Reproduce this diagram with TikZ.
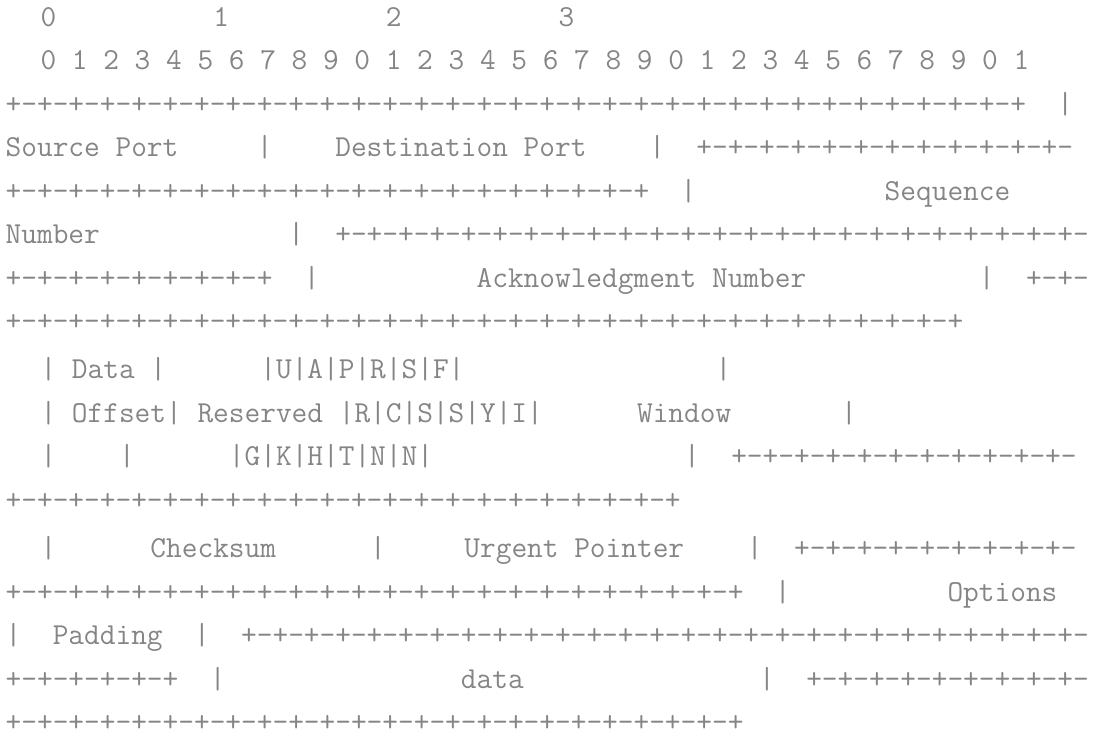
\documentclass[tikz,border=0pt]{standalone}
\definecolor{asciigray}{HTML}{858585}
\newcommand\sps[1]{\hspace*{#1\fontcharwd\font`0}}
\newcommand\ruler[1]{\foreach \k in {1,...,#1}{+-}}
\begin{document}
\begin{tikzpicture}[x=0.5pt, y=-0.5pt,
			row/.style={anchor=base west, inner sep=0pt, text=asciigray, font=\ttfamily\fontsize{15.24}{18}\selectfont}]
			\useasboundingbox (0,0) rectangle (1112,742);
			\node[row] (tens) at (8.8,26.5) {\sps{2}0\sps{10}1\sps{10}2\sps{10}3};
			\node[row] (ones) at (8.8,70) {\sps{2}0 1 2 3 4 5 6 7 8 9 0 1 2 3 4 5 6 7 8 9 0 1 2 3 4 5 6 7 8 9 0 1};
			\node[row] (r3) at (5.3,113.5) {\ruler{32}+\sps{2}|};
			\node[row] (r4) at (5.3,157) {Source Port\sps{5}|\sps{4}Destination Port\sps{4}|\sps{2}\ruler{12}};
			\node[row] (r5) at (5.3,200.5) {\ruler{20}+\sps{2}|\sps{12}Sequence};
			\node[row] (r6) at (5.3,244) {Number\sps{12}|\sps{2}\ruler{24}};
			\node[row] (r7) at (5.3,287.5) {\ruler{8}+\sps{2}|\sps{10}Acknowledgment Number\sps{11}|\sps{2}\ruler{2}};
			\node[row] (r8) at (5.3,331) {\ruler{30}+};
			\node[row] (r9) at (8.8,379) {\sps{2}| Data |\sps{6}|U|A|P|R|S|F|\sps{16}|};
			\node[row] (r10) at (8.8,422.5) {\sps{2}| Offset| Reserved |R|C|S|S|Y|I|\sps{6}Window\sps{7}|};
			\node[row] (r11) at (8.8,466) {\sps{2}|\sps{4}|\sps{6}|G|K|H|T|N|N|\sps{16}|\sps{2}\ruler{11}};
			\node[row] (r12) at (5.3,509.5) {\ruler{21}+};
			\node[row] (r13) at (8.8,557.5) {\sps{2}|\sps{6}Checksum\sps{6}|\sps{5}Urgent Pointer\sps{4}|\sps{2}\ruler{9}};
			\node[row] (r14) at (5.3,601) {\ruler{23}+\sps{2}|\sps{10}Options};
			\node[row] (r15) at (5.3,644.5) {|\sps{2}Padding\sps{2}|\sps{2}\ruler{27}};
			\node[row] (r16) at (5.3,688) {\ruler{5}+\sps{2}|\sps{15}data\sps{15}|\sps{2}\ruler{9}};
			\node[row] (r17) at (5.3,731.5) {\ruler{23}+};
		\end{tikzpicture}
\end{document}
